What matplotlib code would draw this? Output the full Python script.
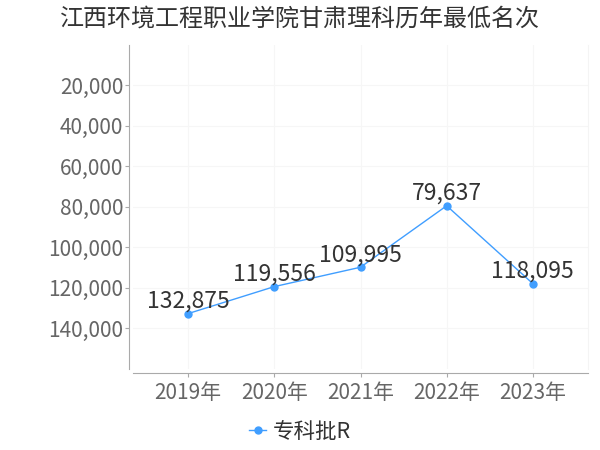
import matplotlib
matplotlib.use("Agg")
import matplotlib.pyplot as plt

plt.rcParams['font.family'] = ['Noto Sans CJK SC', 'DejaVu Sans']

title = "江西环境工程职业学院甘肃理科历年最低名次"
years = ["2019年", "2020年", "2021年", "2022年", "2023年"]
ranks = [132875, 119556, 109995, 79637, 118095]
series_name = "专科批R"
yticks = [20000, 40000, 60000, 80000, 100000, 120000, 140000]

color = "#409EFF"

fig = plt.figure(figsize=(6, 4.5), dpi=100)
ax = fig.add_axes([133/600, 1-368.5/450, (588-133)/600, (368.5-44.5)/450])

x = list(range(len(years)))
ax.plot(x, ranks, color=color, lw=1, marker='o', ms=5, label=series_name)
for xi, v in zip(x, ranks):
    ax.annotate(f"{v:,}", (xi, v), xytext=(0, 9), textcoords='offset points',
                ha='center', va='center', fontsize=16.5, color='#333333')

ax.set_ylim(160000, 0)
ax.set_xlim(-0.64, 4.64)
ax.set_yticks(yticks)
ax.set_yticklabels([f"{t:,}" for t in yticks])
ax.set_xticks(x)
ax.set_xticklabels(years)
ax.tick_params(axis='both', labelsize=15, length=3, width=0.8, pad=1)
ax.tick_params(axis='x', colors='#aaaaaa', labelcolor='#666666', pad=4)
ax.tick_params(axis='y', colors='#aaaaaa', labelcolor='#666666')

ax.grid(True, color='#f6f6f6', lw=0.8)
ax.set_axisbelow(True)
ax.spines['top'].set_visible(False)
ax.spines['right'].set_color('#f4f4f4')
ax.spines['left'].set_color('#aaaaaa')
ax.spines['bottom'].set_color('#aaaaaa')
ax.spines['left'].set_position(('outward', 3))
ax.spines['bottom'].set_position(('outward', 3))

fig.text(0.5, 1-19/450, title, ha='center', va='center', fontsize=17.3, color='#333333')

leg = fig.legend(loc='center', bbox_to_anchor=(0.5, 1-432/450), frameon=False,
                 fontsize=15.5, handlelength=0.8, handletextpad=0.3, labelcolor='#333333')

fig.savefig("out.png", dpi=100)
